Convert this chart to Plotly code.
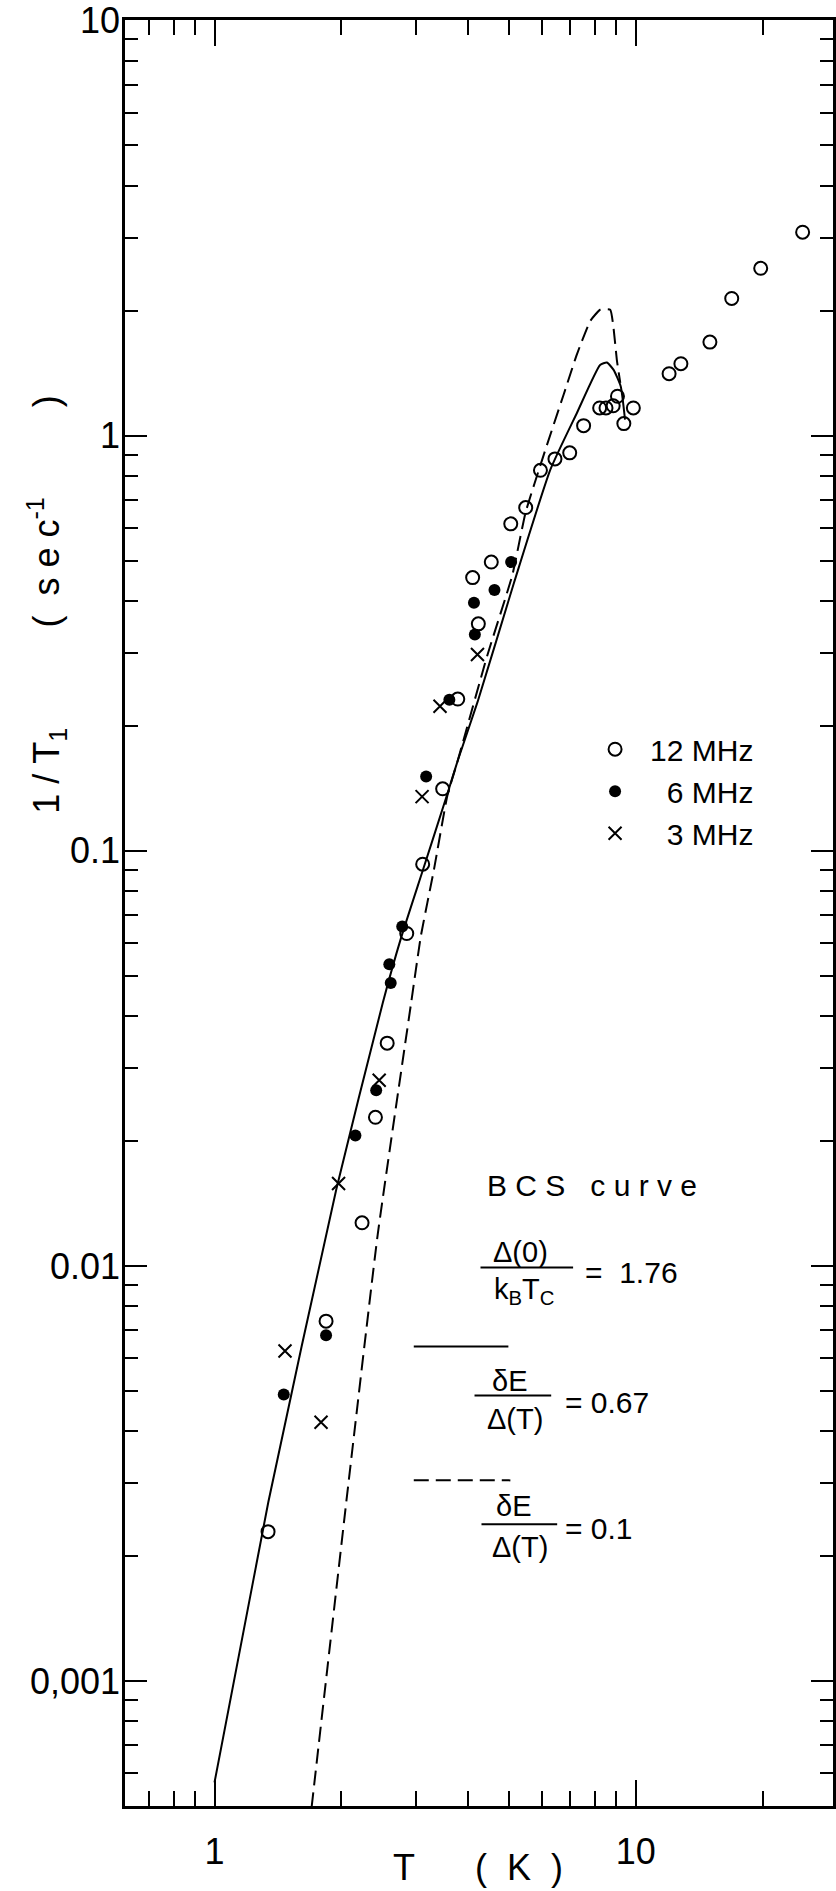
import math
import plotly.graph_objects as go

# Spin-lattice relaxation rate 1/T1 (s^-1) versus temperature T (K)
t_12mhz = [1.34, 1.84, 2.24, 2.41, 2.57, 2.86, 3.12, 3.48, 3.78, 4.10, 4.23, 4.54,
           5.05, 5.48, 5.94, 6.43, 6.97, 7.52, 8.21, 8.50, 8.84, 9.05, 9.37, 9.87,
           12.0, 12.8, 15.0, 16.9, 19.8, 24.9]
r_12mhz = [0.00229, 0.00736, 0.0127, 0.0228, 0.0344, 0.0632, 0.0928, 0.141, 0.232,
           0.455, 0.352, 0.496, 0.613, 0.671, 0.825, 0.879, 0.909, 1.057, 1.166,
           1.166, 1.18, 1.244, 1.069, 1.166, 1.41, 1.49, 1.68, 2.14, 2.53, 3.09]

t_6mhz = [1.46, 1.84, 2.16, 2.42, 2.60, 2.62, 2.79, 3.18, 3.61, 4.15, 4.13, 4.62, 5.06]
r_6mhz = [0.0049, 0.00681, 0.0206, 0.0265, 0.0533, 0.048, 0.0657, 0.151, 0.231,
          0.332, 0.396, 0.425, 0.496]

t_3mhz = [1.47, 1.79, 1.97, 2.46, 3.11, 3.43, 4.21]
r_3mhz = [0.00624, 0.0042, 0.0158, 0.0280, 0.135, 0.223, 0.297]

# BCS curves, dE/Delta(T) = 0.67 (solid) and 0.1 (dashed)
t_bcs_067 = [1.00, 1.342, 1.946, 2.51, 2.77, 3.12, 3.57, 3.78, 4.21, 5.14, 6.27,
             7.25, 8.23, 8.54, 8.86, 9.21, 9.43]
r_bcs_067 = [5.7e-4, 0.0027, 0.0153, 0.0431, 0.0615, 0.0895, 0.137, 0.165, 0.228,
             0.442, 0.828, 1.134, 1.48, 1.50, 1.44, 1.315, 1.093]

t_bcs_01 = [1.70, 2.055, 2.44, 2.93, 3.09, 3.32, 3.57, 3.78, 4.44, 5.09, 5.48, 6.05,
            6.75, 7.25, 7.80, 8.23, 8.70, 8.85, 9.02, 9.19]
r_bcs_01 = [4.96e-4, 0.0027, 0.0119, 0.0431, 0.0624, 0.0903, 0.1356, 0.165, 0.295,
            0.46, 0.655, 0.90, 1.26, 1.57, 1.89, 2.01, 2.01, 1.83, 1.52, 1.34]

# Axis ticks
x_major = [1, 10]
x_major_text = ["1", "10"]
x_minor = [0.7, 0.8, 0.9, 2, 3, 4, 5, 6, 7, 8, 9, 20]
y_major = [0.001, 0.01, 0.1, 1, 10]
y_major_text = ["0,001", "0.01", "0.1", "1", "10"]
y_minor = [m * 10.0 ** e for e in range(-4, 1) for m in range(2, 10)]

# Page geometry
W, H = 836, 1891
M_L, M_R, M_T, M_B = 125, 0, 18, 85
PW = W - M_L - M_R
PH = H - M_T - M_B
X_DECADE = 423.0
Y_DECADE = 415.6
x_lo = math.log10(0.613)
y_lo = math.log10(5e-4)

FONT = "Liberation Sans, Arial, sans-serif"
NB = "\u00a0"


def px(x):
    return (x - M_L) / PW


def py(y):
    return (H - M_B - y) / PH


fig = go.Figure()

fig.add_trace(go.Scatter(
    x=t_bcs_067, y=r_bcs_067, mode="lines", showlegend=False, hoverinfo="skip",
    line=dict(color="black", width=2, shape="spline", smoothing=0.5)))
fig.add_trace(go.Scatter(
    x=t_bcs_01, y=r_bcs_01, mode="lines", showlegend=False, hoverinfo="skip",
    line=dict(color="black", width=2, dash="15px,7px", shape="spline", smoothing=0.4)))

fig.add_trace(go.Scatter(
    x=t_12mhz, y=r_12mhz, mode="markers", name="12" + NB + "MHz",
    marker=dict(symbol="circle-open", size=13, color="black", line=dict(width=2, color="black"))))
fig.add_trace(go.Scatter(
    x=t_6mhz, y=r_6mhz, mode="markers", name="\u2007" + "6" + NB + "MHz",
    marker=dict(symbol="circle", size=12, color="black", line=dict(width=0))))
fig.add_trace(go.Scatter(
    x=t_3mhz, y=r_3mhz, mode="markers", name="\u2007" + "3" + NB + "MHz",
    marker=dict(symbol="x-thin-open", size=13, color="black", line=dict(width=2, color="black"))))

axis_common = dict(
    type="log", showgrid=False, zeroline=False, showline=True, linewidth=2.5,
    linecolor="black", mirror="allticks", ticks="inside", tickwidth=2,
    tickcolor="black", tickfont=dict(family=FONT, size=36, color="black"),
    ticklabeloverflow="allow",
)

fig.update_layout(
    width=W, height=H,
    margin=dict(l=M_L, r=M_R, t=M_T, b=M_B, pad=0),
    paper_bgcolor="white", plot_bgcolor="white",
    font=dict(family=FONT, color="black"),
    xaxis=dict(
        **axis_common,
        range=[x_lo, x_lo + PW / X_DECADE],
        tickmode="array", tickvals=x_major, ticktext=x_major_text, ticklen=26,
        ticklabelstandoff=12,
        minor=dict(tickmode="array", tickvals=x_minor, ticks="inside", ticklen=15,
                   tickwidth=2, tickcolor="black", showgrid=False),
    ),
    yaxis=dict(
        **axis_common,
        range=[y_lo, y_lo + PH / Y_DECADE],
        tickmode="array", tickvals=y_major, ticktext=y_major_text, ticklen=22,
        ticklabelstandoff=-5,
        minor=dict(tickmode="array", tickvals=y_minor, ticks="inside", ticklen=13,
                   tickwidth=2, tickcolor="black", showgrid=False),
    ),
    legend=dict(
        x=px(582), y=py(722), xanchor="left", yanchor="top",
        font=dict(family=FONT, size=30, color="black"),
        itemwidth=60, bgcolor="rgba(0,0,0,0)", borderwidth=0,
    ),
    showlegend=True,
)

annotations = [
    # axis titles
    dict(x=px(46), y=py(603),
         text="1" + NB + "/" + NB + "T<sub>1</sub>" + NB * 10
         + "(" + NB * 2 + "s" + NB + "e" + NB + "c<sup>-1</sup>" + NB * 9 + ")",
         textangle=-90, font=dict(size=36)),
    dict(x=px(479), y=py(1868),
         text="T" + NB * 6 + "(" + NB * 2 + "K" + NB * 2 + ")",
         font=dict(size=36)),
    # BCS key
    dict(x=px(594), y=py(1185), text=NB.join("BCS") + NB * 3 + NB.join("curve"),
         font=dict(size=30)),
    dict(x=px(522), y=py(1251), text="\u0394(0)", font=dict(size=29)),
    dict(x=px(526), y=py(1290), text="k<sub>B</sub>T<sub>C</sub>", font=dict(size=29)),
    dict(x=px(585), y=py(1272), text="=" + NB + NB + "1.76", xanchor="left", font=dict(size=30)),
    dict(x=px(512), y=py(1381), text="\u03b4E", font=dict(size=29)),
    dict(x=px(517), y=py(1419), text="\u0394(T)", font=dict(size=29)),
    dict(x=px(565), y=py(1402), text="=" + NB + "0.67", xanchor="left", font=dict(size=30)),
    dict(x=px(516), y=py(1506), text="\u03b4E", font=dict(size=29)),
    dict(x=px(522), y=py(1547), text="\u0394(T)", font=dict(size=29)),
    dict(x=px(565), y=py(1528), text="=" + NB + "0.1", xanchor="left", font=dict(size=30)),
]
for a in annotations:
    a.setdefault("xref", "paper")
    a.setdefault("yref", "paper")
    a.setdefault("showarrow", False)
    a.setdefault("xanchor", "center")
    a.setdefault("yanchor", "middle")
    a["font"] = dict(family=FONT, color="black", **a.get("font", {}))
fig.update_layout(annotations=annotations)


def hline(x0, x1, y, dash="solid"):
    return dict(type="line", xref="paper", yref="paper",
                x0=px(x0), x1=px(x1), y0=py(y), y1=py(y),
                line=dict(color="black", width=2, dash=dash))


fig.update_layout(shapes=[
    hline(482, 575, 1267),
    hline(476, 553, 1395),
    hline(483, 559, 1524),
    hline(415, 510, 1346),
    hline(415, 512, 1480, dash="15px,7px"),
])

fig.write_html("out.html")
